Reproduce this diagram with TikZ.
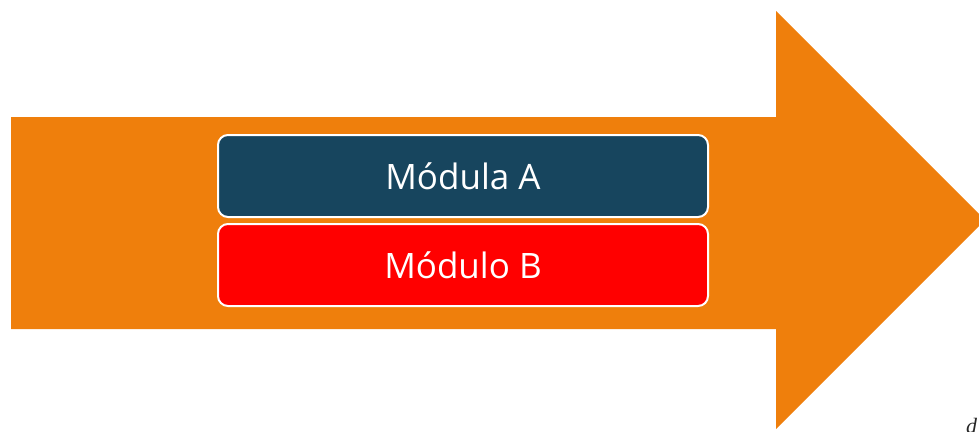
\documentclass[tikz,border=0pt]{standalone}
\usepackage{fontspec}
\setmainfont{Open Sans}
\newfontfamily\notefont{Liberation Serif}
\definecolor{flow}{HTML}{EF7F0C}
\definecolor{modA}{HTML}{17455E}
\definecolor{modB}{HTML}{FF0000}
\begin{document}
\begin{tikzpicture}[x=1pt,y=-1pt,
  module/.style={draw=white, line width=2pt, rounded corners=10pt,
    minimum width=490pt, minimum height=82pt, inner sep=0pt,
    text=white, font=\fontsize{35}{42}\selectfont}]
  \useasboundingbox (0,0) rectangle (979,431);
  \begin{scope}
    \clip (0,0) rectangle (979,431);
    % block arrow
    \fill[flow] (11,117) -- (776,117) -- (776,11) -- (985,220)
      -- (776,429) -- (776,329) -- (11,329) -- cycle;
    % stray note letter in the lower right corner
    \node[anchor=base west, inner sep=0pt, text=black!85,
      font=\notefont\itshape\fontsize{22}{24}\selectfont]
      (d) at (966,433) {d};
  \end{scope}
  \node[module, fill=modA] (a) at (463,176) {Módula A};
  \node[module, fill=modB] (b) at (463,265) {Módulo B};
\end{tikzpicture}
\end{document}
